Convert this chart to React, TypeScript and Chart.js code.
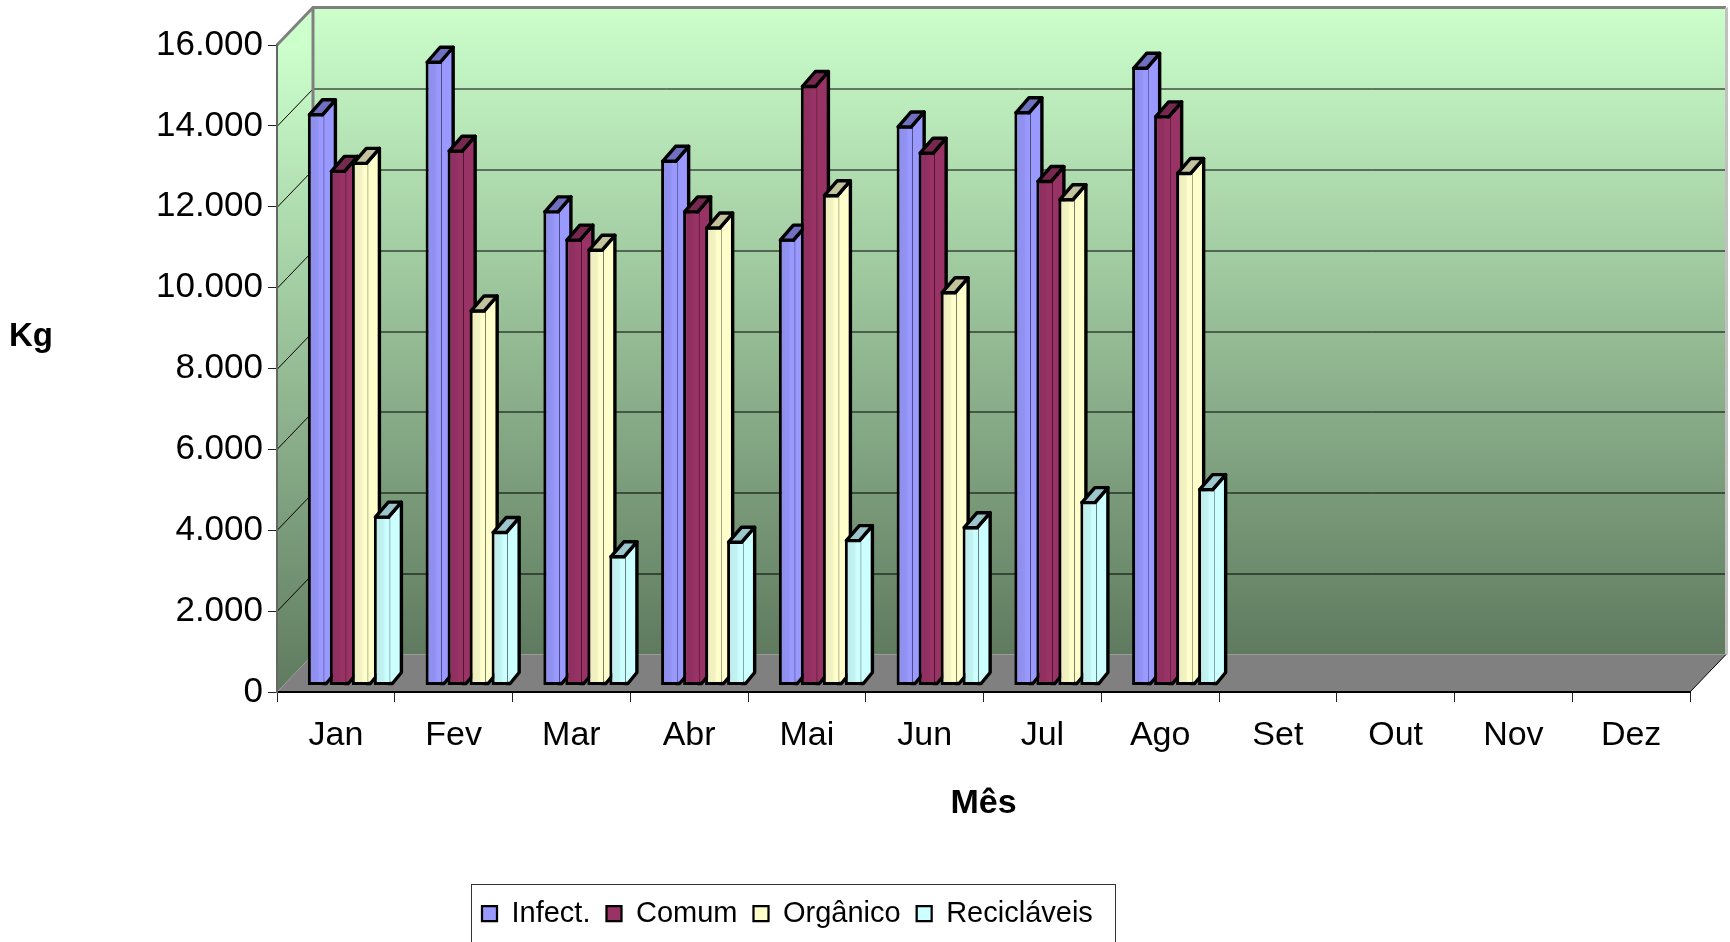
import React, { useEffect, useRef } from "react";
import { Chart, registerables } from "chart.js";

Chart.register(...registerables);

const categories = ["Jan", "Fev", "Mar", "Abr", "Mai", "Jun", "Jul", "Ago", "Set", "Out", "Nov", "Dez"];
const infect = [14150, 15450, 11750, 13000, 11050, 13850, 14200, 15300, null, null, null, null];
const comum = [12750, 13250, 11050, 11750, 14850, 13200, 12500, 14100, null, null, null, null];
const organico = [12950, 9300, 10800, 11350, 12150, 9750, 12050, 12700, null, null, null, null];
const reciclaveis = [4200, 3820, 3220, 3580, 3620, 3940, 4560, 4880, null, null, null, null];
const seriesNames = ["Infect.", "Comum", "Orgânico", "Recicláveis"];
const frontColors = ["#9999FF", "#993366", "#FFFFCC", "#CCFFFF"];
const topColors = ["#7070C0", "#77284F", "#C2C29C", "#9CC6CC"];
const yTicks = [0, 2000, 4000, 6000, 8000, 10000, 12000, 14000, 16000];

const FONT = "'Liberation Sans', Arial, sans-serif";
const PLOT = { left: 277, right: 1690, top: 45, bottom: 692 };
const WALL = { dx: 36, dy: 37.5 };
const BAR_SHIFT = { x: 13, y: 6.5 };
const BAR_DEPTH = { dx: 13, dy: 15 };
const LINE = 3.4;

const walls3d = {
  id: "walls3d",
  beforeDraw(chart: any) {
    const { ctx, scales } = chart;
    const y = scales.y;
    const x0 = PLOT.left;
    const x1 = PLOT.right;
    const y0 = y.getPixelForValue(0);
    const yT = y.getPixelForValue(16000);
    const { dx, dy } = WALL;
    ctx.save();
    const g = ctx.createLinearGradient(0, yT - dy, 0, y0 - dy);
    g.addColorStop(0, "#CCFFCC");
    g.addColorStop(1, "#5F7A5F");
    ctx.fillStyle = g;
    ctx.fillRect(x0 + dx, yT - dy, x1 - x0, y0 - yT);
    const g2 = ctx.createLinearGradient(0, yT, 0, y0);
    g2.addColorStop(0, "#CCFFCC");
    g2.addColorStop(1, "#5F7A5F");
    ctx.fillStyle = g2;
    ctx.beginPath();
    ctx.moveTo(x0, yT);
    ctx.lineTo(x0 + dx, yT - dy);
    ctx.lineTo(x0 + dx, y0 - dy);
    ctx.lineTo(x0, y0);
    ctx.closePath();
    ctx.fill();
    ctx.fillStyle = "#808080";
    ctx.beginPath();
    ctx.moveTo(x0, y0);
    ctx.lineTo(x0 + dx, y0 - dy);
    ctx.lineTo(x1 + dx, y0 - dy);
    ctx.lineTo(x1, y0);
    ctx.closePath();
    ctx.fill();
    ctx.strokeStyle = "#000000";
    ctx.lineWidth = 1;
    yTicks.slice(1, -1).forEach((v) => {
      const py = Math.round(y.getPixelForValue(v)) + 0.5;
      ctx.beginPath();
      ctx.moveTo(x0, py);
      ctx.lineTo(x0 + dx, py - dy);
      ctx.lineTo(x1 + dx, py - dy);
      ctx.stroke();
    });
    ctx.strokeStyle = "#808080";
    ctx.lineWidth = 3;
    ctx.beginPath();
    ctx.moveTo(x0, yT);
    ctx.lineTo(x0 + dx, yT - dy);
    ctx.lineTo(x1 + dx, yT - dy);
    ctx.moveTo(x0 + dx, yT - dy);
    ctx.lineTo(x0 + dx, y0 - dy);
    ctx.stroke();
    ctx.strokeStyle = "#C0C0C0";
    ctx.beginPath();
    ctx.moveTo(x1 + dx + 0.5, yT - dy);
    ctx.lineTo(x1 + dx + 0.5, y0 - dy);
    ctx.stroke();
    ctx.strokeStyle = "#000000";
    ctx.lineWidth = 1;
    ctx.beginPath();
    ctx.moveTo(x1, y0);
    ctx.lineTo(x1 + dx, y0 - dy);
    ctx.stroke();
    ctx.restore();
  },
  beforeDatasetsDraw(chart: any) {
    const { ctx } = chart;
    ctx.save();
    ctx.translate(BAR_SHIFT.x, -BAR_SHIFT.y);
    ctx.lineJoin = "round";
    const { dx, dy } = BAR_DEPTH;
    chart.getSortedVisibleDatasetMetas().forEach((meta: any) => {
      const i = meta.index;
      const vals = chart.data.datasets[i].data;
      const present = meta.data.filter((_: any, k: number) => vals[k] != null);
      present.forEach((el: any) => {
        const { x, y, base, width } = el.getProps(["x", "y", "base", "width"], true);
        const r = x + width / 2 - 1.5;
        ctx.lineWidth = LINE;
        ctx.strokeStyle = "#000000";
        ctx.fillStyle = frontColors[i];
        ctx.beginPath();
        ctx.moveTo(r, y + 1.5);
        ctx.lineTo(r + dx, y + 1.5 - dy);
        ctx.lineTo(r + dx, base - 1.5 - dy + 4);
        ctx.lineTo(r + 4, base - 1.5);
        ctx.lineTo(r, base - 1.5);
        ctx.closePath();
        ctx.fill();
        ctx.stroke();
      });
      meta.controller.draw();
      present.forEach((el: any) => {
        const { x, y, base, width } = el.getProps(["x", "y", "base", "width"], true);
        const r = x + width / 2 - 1.5;
        const l = x - width / 2 + 1.5;
        const il = x - width / 2 + 3;
        const sw = width * 0.55;
        const g = ctx.createLinearGradient(il, 0, il + sw, 0);
        g.addColorStop(0, "rgba(0,0,0,0.07)");
        g.addColorStop(0.75, "rgba(0,0,0,0.05)");
        g.addColorStop(1, "rgba(0,0,0,0)");
        ctx.fillStyle = g;
        ctx.fillRect(il, y + 3, sw, base - y - 6);
        ctx.lineWidth = LINE;
        ctx.strokeStyle = "#000000";
        ctx.fillStyle = topColors[i];
        ctx.beginPath();
        ctx.moveTo(l, y + 1.5);
        ctx.lineTo(r, y + 1.5);
        ctx.lineTo(r + dx, y + 1.5 - dy);
        ctx.lineTo(l + dx, y + 1.5 - dy);
        ctx.closePath();
        ctx.fill();
        ctx.stroke();
      });
    });
    ctx.restore();
    return false;
  },
  afterLayout(chart: any) {
    const l = chart.legend;
    if (!l) return;
    l.left = 466;
    l.right = 1730;
    l.top = 883;
    l.bottom = 944;
  },
  afterDraw(chart: any) {
    const { ctx } = chart;
    ctx.save();
    ctx.strokeStyle = "#333333";
    ctx.lineWidth = 1;
    ctx.strokeRect(471.5, 884.5, 644, 70);
    ctx.fillStyle = "#000000";
    ctx.font = `bold 33px ${FONT}`;
    ctx.textAlign = "center";
    ctx.textBaseline = "middle";
    ctx.fillText("Kg", 31, 337);
    ctx.restore();
  },
};

export default function App() {
  const ref = useRef<HTMLCanvasElement>(null);
  useEffect(() => {
    if (!ref.current) return;
    const values = [infect, comum, organico, reciclaveis];
    const chart = new Chart(ref.current, {
      type: "bar",
      data: {
        labels: categories,
        datasets: seriesNames.map((name, i) => ({
          label: name,
          data: values[i],
          backgroundColor: frontColors[i],
          borderColor: "#000000",
          borderWidth: { left: 3, top: 3, bottom: 3, right: 0 },
          borderSkipped: false,
          categoryPercentage: 0.7473,
          barPercentage: 0.73,
        })),
      },
      options: {
        responsive: false,
        animation: false,
        maintainAspectRatio: false,
        layout: { padding: { top: 45, right: 40, left: 0, bottom: 0 } },
        plugins: {
          tooltip: { enabled: false },
          legend: {
            position: "bottom",
            align: "start",
            labels: {
              color: "#000000",
              font: { family: FONT, size: 29 },
              boxWidth: 15,
              boxHeight: 15,
              padding: 16,
            },
          },
        },
        scales: {
          x: {
            afterFit(s: any) {
              s.height = 942 - 692 - s.chart.legend.height;
            },
            grid: { drawOnChartArea: false, tickLength: 10, color: "#222222", offset: true },
            border: { color: "#000000", width: 2 },
            ticks: { color: "#000000", font: { family: FONT, size: 34 }, padding: 13, maxRotation: 0, autoSkip: false },
            title: {
              display: true,
              text: "Mês",
              color: "#000000",
              font: { family: FONT, size: 34, weight: "bold" },
              padding: { top: 0, bottom: 63 },
            },
          },
          y: {
            min: 0,
            max: 16000,
            afterFit(s: any) {
              s.width = 277;
            },
            afterBuildTicks(s: any) {
              s.ticks = yTicks.map((value) => ({ value }));
            },
            grid: { drawOnChartArea: false, tickLength: 9, color: "#222222" },
            border: { color: "#666666", width: 2 },
            ticks: {
              color: "#000000",
              font: { family: FONT, size: 35 },
              padding: 5,
              callback: (v: any) => String(v).replace(/\B(?=(\d{3})+$)/g, "."),
            },
          },
        },
      },
      plugins: [walls3d],
    } as any);
    return () => chart.destroy();
  }, []);
  return (
    <div style={{ position: "fixed", left: 0, top: 0, width: 1730, height: 942, background: "#ffffff", overflow: "hidden" }}>
      <canvas ref={ref} width={1730} height={942} style={{ display: "block" }} />
    </div>
  );
}
